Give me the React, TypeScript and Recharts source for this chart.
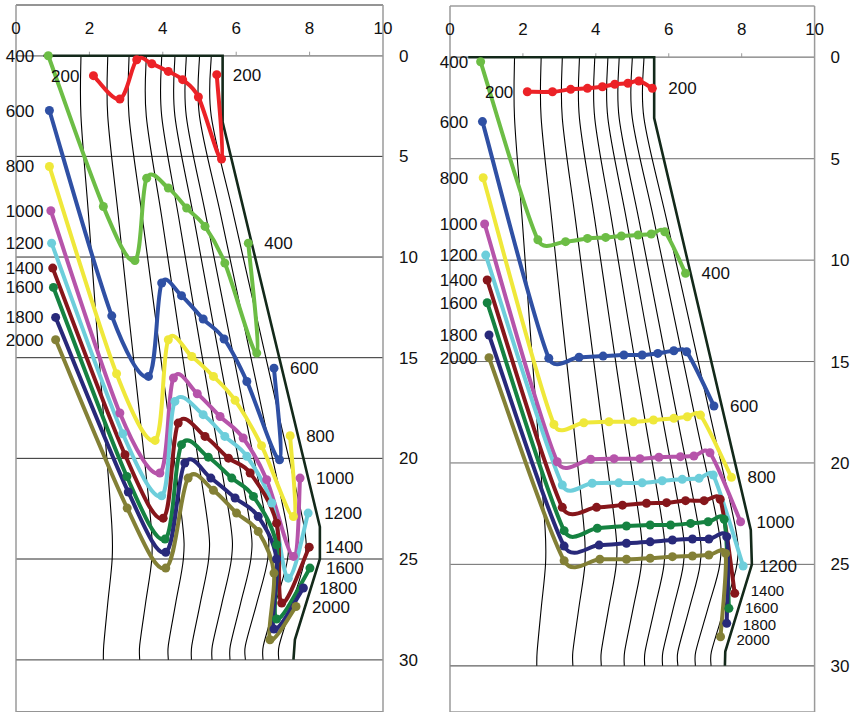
import { LineChart, Line, XAxis, YAxis, CartesianGrid, ReferenceLine, ReferenceDot } from 'recharts'

// time labels and colours of the ten profiles
const times = ['200', '400', '600', '800', '1000', '1200', '1400', '1600', '1800', '2000']
const colors = ['#ec2227', '#6cbd45', '#2f50a4', '#efe83a', '#b654aa', '#6dcedb', '#86161b', '#158241', '#28297a', '#838036']

const xTicks = [0, 2, 4, 6, 8, 10]
const yTicks = [0, 5, 10, 15, 20, 25, 30]
const minorTicks = [2, 4, 6, 8]

// left panel profiles [x, depth]
const leftS200 = [[2.11, 0.99], [2.83, 2.15], [3.29, 0.2], [3.7, 0.4], [4.15, 0.78], [4.54, 1.19], [4.97, 2.05], [5.6, 5.13], [5.47, 0.94]]
const leftS400 = [[0.88, 0], [2.38, 7.49], [3.24, 10.17], [3.56, 6.08], [4.15, 6.57], [4.65, 7.57], [5.15, 8.48], [5.69, 10.3], [6.56, 14.77], [6.33, 9.31]]
const leftS600 = [[0.91, 2.72], [2.61, 12.92], [3.61, 15.93], [3.97, 11.29], [4.51, 11.92], [5.1, 13.08], [5.67, 14.07], [6.29, 16.18], [7.18, 20.07], [7.03, 15.52]]
const leftS800 = [[0.91, 5.5], [2.74, 15.8], [3.79, 19.11], [4.15, 14.11], [4.79, 14.94], [5.38, 15.93], [5.97, 17.12], [6.69, 19.37], [7.56, 22.89], [7.47, 18.88]]
const leftS1000 = [[0.95, 7.7], [2.83, 17.75], [3.92, 20.73], [4.29, 16.01], [4.94, 16.79], [5.56, 17.92], [6.19, 18.99], [6.83, 21.06], [7.56, 24.87], [7.74, 20.98]]
const leftS1200 = [[0.97, 9.31], [2.91, 18.78], [3.97, 21.86], [4.33, 17.17], [5.1, 17.83], [5.69, 18.91], [6.29, 19.9], [6.97, 22.22], [7.42, 25.95], [7.96, 22.72]]
const leftS1400 = [[1.0, 10.55], [2.97, 19.82], [4.01, 22.97], [4.42, 18.25], [5.15, 18.91], [5.79, 19.99], [6.38, 20.73], [7.1, 23.22], [7.24, 27.19], [7.99, 24.41]]
const leftS1600 = [[1.02, 11.51], [3.02, 20.9], [4.06, 24.01], [4.51, 19.32], [5.24, 19.94], [5.88, 20.98], [6.47, 21.89], [7.1, 24.29], [7.1, 27.98], [8.01, 25.45]]
const leftS1800 = [[1.08, 13.0], [3.06, 21.67], [4.08, 24.67], [4.6, 20.23], [5.31, 20.98], [5.97, 21.97], [6.6, 22.89], [7.1, 25.0], [7.03, 28.48], [7.83, 26.44]]
const leftS2000 = [[1.08, 14.11], [3.03, 22.47], [4.08, 25.45], [4.69, 20.98], [5.38, 21.59], [6.01, 22.72], [6.6, 23.63], [7.03, 25.7], [6.92, 29.01], [7.63, 27.36]]

// right panel profiles [x, depth]
const rightS200 = [[2.12, 1.7], [2.81, 1.7], [3.31, 1.58], [3.77, 1.53], [4.18, 1.45], [4.52, 1.33], [4.88, 1.28], [5.18, 1.17], [5.55, 1.53]]
const rightS400 = [[0.84, 0.22], [2.41, 9.0], [3.17, 9.09], [3.77, 8.93], [4.27, 8.88], [4.7, 8.81], [5.16, 8.76], [5.52, 8.71], [5.89, 8.6], [6.46, 10.65]]
const rightS600 = [[0.89, 3.17], [2.71, 14.84], [3.54, 14.79], [4.2, 14.73], [4.77, 14.68], [5.27, 14.68], [5.7, 14.6], [6.14, 14.47], [6.49, 14.52], [7.24, 17.19]]
const rightS800 = [[0.91, 5.94], [2.85, 18.1], [3.67, 18.02], [4.36, 17.97], [5.03, 17.97], [5.58, 17.88], [6.14, 17.8], [6.51, 17.72], [6.87, 17.64], [7.72, 20.71]]
const rightS1000 = [[0.95, 8.22], [2.94, 19.94], [3.86, 19.82], [4.5, 19.79], [5.21, 19.79], [5.73, 19.72], [6.32, 19.69], [6.69, 19.66], [7.13, 19.5], [7.97, 22.9]]
const rightS1200 = [[0.98, 9.75], [3.08, 21.09], [3.9, 21.0], [4.63, 20.98], [5.27, 20.98], [5.82, 20.88], [6.37, 20.81], [6.83, 20.76], [7.22, 20.6], [8.04, 25.08]]
const rightS1400 = [[1.02, 10.98], [3.08, 22.19], [4.02, 22.19], [4.73, 22.08], [5.39, 21.99], [5.94, 21.96], [6.46, 21.86], [6.97, 21.86], [7.41, 21.79], [7.81, 26.43]]
const rightS1600 = [[1.02, 12.1], [3.13, 23.34], [4.04, 23.22], [4.84, 23.11], [5.49, 23.06], [6.05, 23.06], [6.6, 22.98], [7.08, 22.9], [7.52, 22.78], [7.65, 27.17]]
const rightS1800 = [[1.07, 13.69], [3.13, 24.1], [4.09, 24.05], [4.84, 23.96], [5.49, 23.89], [6.1, 23.8], [6.65, 23.75], [7.1, 23.75], [7.59, 23.64], [7.59, 27.91]]
const rightS2000 = [[1.07, 14.81], [3.13, 24.82], [4.11, 24.75], [4.84, 24.75], [5.49, 24.7], [6.1, 24.62], [6.65, 24.59], [7.1, 24.54], [7.56, 24.46], [7.42, 28.57]]

// outer boundary of the deformed body
const leftBoundary = [[0.75, 0], [5.63, 0], [5.63, 3.3], [8.28, 23.4], [8.28, 25], [7.6, 29], [7.56, 30]]
const rightBoundary = [[0.5, 0], [5.6, 0], [5.6, 3], [8.25, 23.3], [8.28, 25], [7.55, 29.3], [7.54, 30]]

// thin mesh lines: x of each line at the depths in meshY
const meshY = [0, 3, 8, 13, 18, 23.3, 25, 27.2, 29.3, 30]
const meshX = [
  [1.77, 1.77, 1.98, 2.18, 2.39, 2.61, 2.62, 2.5, 2.39, 2.38],
  [2.5, 2.5, 2.79, 3.08, 3.38, 3.68, 3.7, 3.53, 3.37, 3.37],
  [3.08, 3.08, 3.44, 3.8, 4.16, 4.54, 4.56, 4.35, 4.15, 4.15],
  [3.55, 3.55, 3.97, 4.38, 4.79, 5.23, 5.25, 5.02, 4.79, 4.78],
  [3.97, 3.97, 4.43, 4.89, 5.36, 5.85, 5.87, 5.61, 5.35, 5.34],
  [4.33, 4.33, 4.84, 5.34, 5.85, 6.38, 6.4, 6.12, 5.84, 5.83],
  [4.64, 4.64, 5.18, 5.72, 6.26, 6.83, 6.86, 6.56, 6.25, 6.25],
  [5.0, 5.0, 5.59, 6.17, 6.75, 7.37, 7.4, 7.07, 6.74, 6.73],
  [5.32, 5.32, 5.94, 6.56, 7.18, 7.84, 7.87, 7.52, 7.17, 7.16],
]

const toPts = (arr: number[][]) => arr.map(([x, y]) => ({ x, y }))
const mesh = meshX.map(xs => xs.map((x, i) => ({ x, y: meshY[i] })))

// smoothed line like the spreadsheet one, with tangents limited by segment length
function smooth(context: any) {
  let pts: number[][] = []
  const tangent = (a: number[], c: number[], len: number) => {
    const dx = c[0] - a[0]
    const dy = c[1] - a[1]
    const d = Math.hypot(dx, dy) || 1
    const k = Math.min(d / 6, len * 0.5)
    return [(dx / d) * k, (dy / d) * k]
  }
  return {
    areaStart() {},
    areaEnd() {},
    lineStart() {
      pts = []
    },
    point(x: number, y: number) {
      pts.push([+x, +y])
    },
    lineEnd() {
      const n = pts.length
      if (!n) return
      context.moveTo(pts[0][0], pts[0][1])
      for (let i = 0; i < n - 1; i++) {
        const p0 = pts[Math.max(i - 1, 0)]
        const p1 = pts[i]
        const p2 = pts[i + 1]
        const p3 = pts[Math.min(i + 2, n - 1)]
        const len = Math.hypot(p2[0] - p1[0], p2[1] - p1[1])
        const t1 = tangent(p0, p2, len)
        const t2 = tangent(p1, p3, len)
        context.bezierCurveTo(p1[0] + t1[0], p1[1] + t1[1], p2[0] - t2[0], p2[1] - t2[1], p2[0], p2[1])
      }
    },
  }
}

interface PanelProps {
  series: number[][][]
  boundary: number[][]
  left: number
  width: number
  top: number
  yDomain: number[]
  gridColor: string
  tightEnds?: boolean
}

function Panel({ series, boundary, left, width, top, yDomain, gridColor, tightEnds }: PanelProps) {
  const lines = series.map(toPts)
  return (
    <div style={{ position: 'absolute', left, top: 0 }}>
      <LineChart width={width} height={712} margin={{ top, right: 0, bottom: 0, left: 16 }}>
        <CartesianGrid vertical={false} stroke={gridColor} />
        <XAxis type="number" dataKey="x" domain={[0, 10]} hide allowDataOverflow />
        <YAxis type="number" domain={yDomain} ticks={yTicks} interval={0} reversed orientation="right" width={44}
          axisLine={{ stroke: '#9a9a9a', strokeWidth: 1.5 }} tickLine={false} tickSize={0} tickMargin={16}
          tick={{ fill: '#111', fontSize: 17 }} allowDataOverflow />
        <ReferenceLine x={0} stroke="#9a9a9a" strokeWidth={1.5} />
        <ReferenceLine y={0} stroke="#9a9a9a" strokeWidth={1.5} />
        <ReferenceLine y={30} stroke="#888" strokeWidth={1.5} />
        {minorTicks.map(t => (
          <ReferenceLine key={'t' + t} segment={[{ x: t, y: 0 }, { x: t, y: -0.2 }]} stroke="#9a9a9a" />
        ))}
        {xTicks.map(t => (
          <ReferenceDot key={'xl' + t} x={t} y={-1.4} r={0} fill="none" stroke="none" ifOverflow="visible"
            label={{ value: String(t), position: 'center', fill: '#111', fontSize: 17 }} />
        ))}
        {mesh.map((d, i) => (
          <Line key={'m' + i} data={d} dataKey="y" type={smooth as any} stroke="#000" strokeWidth={1.1}
            dot={false} activeDot={false} isAnimationActive={false} />
        ))}
        <Line data={toPts(boundary)} dataKey="y" type="linear" stroke="#13291a" strokeWidth={2.6}
          dot={false} activeDot={false} isAnimationActive={false} />
        {lines.map((d, i) => (
          <Line key={times[i]} data={d} dataKey="y" type={smooth as any} stroke={colors[i]} strokeWidth={4}
            strokeLinejoin="round" dot={{ r: 4.5, fill: colors[i], stroke: colors[i], strokeWidth: 0 }}
            activeDot={false} isAnimationActive={false} />
        ))}
        {lines.map((d, i) => (
          <ReferenceDot key={'s' + i} x={i === 0 ? d[0].x : -0.28} y={d[0].y} r={0} fill="none" stroke="none"
            ifOverflow="visible"
            label={{ value: times[i], position: i === 0 ? 'left' : 'right', offset: i === 0 ? 14 : 0, fill: '#111', fontSize: 17 }} />
        ))}
        {lines.map((d, i) => {
          const tight = tightEnds && i >= 6
          return (
            <ReferenceDot key={'e' + i} x={d[d.length - 1].x} y={d[d.length - 1].y} r={0} fill="none" stroke="none"
              ifOverflow="visible"
              label={{ value: times[i], position: 'right', offset: 16, fill: '#111', fontSize: tight ? 15 : 17,
                dy: tight ? (i - 7.5) * 2 : 0 }} />
          )
        })}
      </LineChart>
    </div>
  )
}

export default function App() {
  return (
    <div style={{ position: 'absolute', left: 0, top: 0, width: 854, height: 712, overflow: 'hidden', background: '#fff',
      fontFamily: '"Liberation Sans", Arial, sans-serif' }}>
      <Panel series={[leftS200, leftS400, leftS600, leftS800, leftS1000, leftS1200, leftS1400, leftS1600, leftS1800, leftS2000]}
        boundary={leftBoundary} left={0} width={427} top={5} yDomain={[-2.52, 32.6]} gridColor="#2a2a2a" />
      <Panel series={[rightS200, rightS400, rightS600, rightS800, rightS1000, rightS1200, rightS1400, rightS1600, rightS1800, rightS2000]}
        boundary={rightBoundary} left={433.7} width={424.6} top={6} yDomain={[-2.53, 32.28]} gridColor="#6a6a6a" tightEnds />
    </div>
  )
}
